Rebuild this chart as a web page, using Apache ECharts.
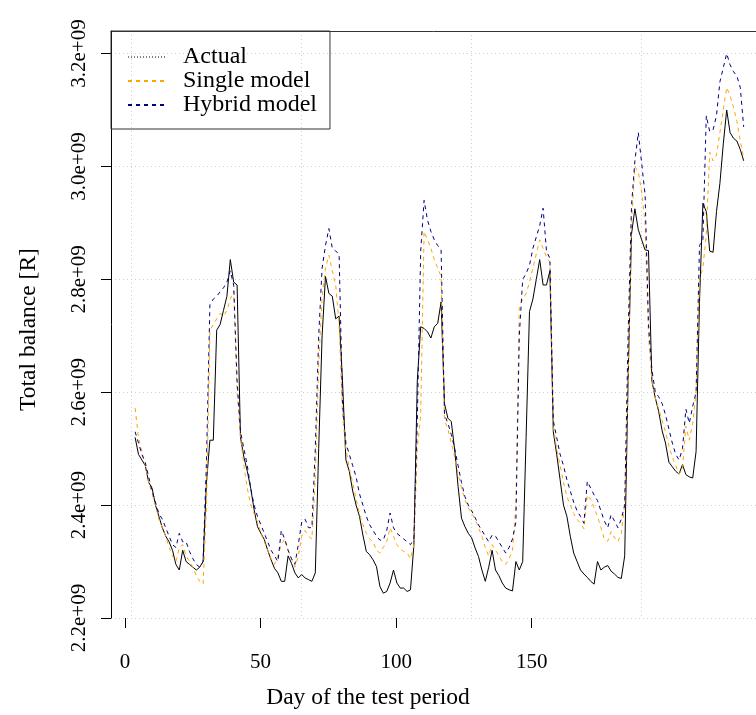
<!DOCTYPE html>
<html>
<head>
<meta charset="utf-8">
<script src="https://cdn.jsdelivr.net/npm/echarts@6/dist/echarts.min.js"></script>
<style>
html,body{margin:0;padding:0;background:#fff;}
#chart{width:756px;height:715px;}
</style>
</head>
<body>
<div id="chart"></div>
<script>
// ---- data (values in units of 1e9) ----
const seriesNames = ['Actual', 'Single model', 'Hybrid model'];

const actual = [
  2.52, 2.49, 2.48, 2.47, 2.44, 2.43, 2.40, 2.38, 2.36, 2.345,
  2.335, 2.32, 2.295, 2.285, 2.32, 2.30, 2.295, 2.29, 2.285, 2.29,
  2.30, 2.44, 2.515, 2.515, 2.71, 2.72, 2.745, 2.77, 2.835, 2.795,
  2.79, 2.52, 2.485, 2.46, 2.43, 2.392, 2.362, 2.35, 2.339, 2.32,
  2.303, 2.288, 2.28, 2.265, 2.265, 2.31, 2.297, 2.28, 2.271, 2.277,
  2.271, 2.268, 2.265, 2.28, 2.50, 2.70, 2.805, 2.775, 2.77, 2.73,
  2.735, 2.62, 2.48, 2.46, 2.425, 2.40, 2.38, 2.347, 2.318, 2.312,
  2.303, 2.291, 2.256, 2.244, 2.247, 2.262, 2.285, 2.262, 2.253, 2.253,
  2.247, 2.25, 2.33, 2.62, 2.716, 2.713, 2.707, 2.696, 2.716, 2.722,
  2.76, 2.58, 2.554, 2.548, 2.498, 2.433, 2.377, 2.362, 2.35, 2.342,
  2.324, 2.309, 2.285, 2.265, 2.29, 2.32, 2.285, 2.275, 2.262, 2.253,
  2.25, 2.248, 2.30, 2.285, 2.30, 2.52, 2.743, 2.765, 2.80, 2.835,
  2.79, 2.79, 2.815, 2.53, 2.49, 2.445, 2.40, 2.38, 2.345, 2.315,
  2.30, 2.285, 2.278, 2.272, 2.265, 2.26, 2.30, 2.285, 2.29, 2.293,
  2.283, 2.278, 2.272, 2.27, 2.31, 2.62, 2.88, 2.925, 2.888, 2.87,
  2.852, 2.851, 2.62, 2.59, 2.566, 2.532, 2.51, 2.476, 2.468, 2.46,
  2.455, 2.472, 2.454, 2.45, 2.448, 2.495, 2.76, 2.935, 2.92, 2.85,
  2.848, 2.92, 2.97, 3.04, 3.10, 3.06, 3.05, 3.045, 3.03, 3.01
];

const singleModel = [
  2.572, 2.52, 2.495, 2.47, 2.44, 2.42, 2.40, 2.375, 2.36, 2.345,
  2.325, 2.31, 2.30, 2.325, 2.33, 2.31, 2.30, 2.29, 2.275, 2.265,
  2.26, 2.40, 2.71, 2.72, 2.73, 2.74, 2.735, 2.745, 2.765, 2.78,
  2.60, 2.52, 2.47, 2.43, 2.40, 2.385, 2.37, 2.35, 2.335, 2.32,
  2.305, 2.295, 2.31, 2.33, 2.34, 2.32, 2.305, 2.29, 2.31, 2.345,
  2.355, 2.345, 2.34, 2.45, 2.65, 2.77, 2.82, 2.843, 2.815, 2.79,
  2.72, 2.56, 2.50, 2.465, 2.44, 2.41, 2.385, 2.365, 2.35, 2.34,
  2.335, 2.32, 2.315, 2.325, 2.335, 2.36, 2.345, 2.33, 2.322, 2.318,
  2.315, 2.305, 2.33, 2.50, 2.56, 2.885, 2.87, 2.855, 2.835, 2.82,
  2.805, 2.55, 2.535, 2.51, 2.485, 2.455, 2.43, 2.41, 2.395, 2.385,
  2.375, 2.36, 2.345, 2.325, 2.31, 2.33, 2.32, 2.31, 2.30, 2.295,
  2.305, 2.32, 2.40, 2.75, 2.765, 2.775, 2.795, 2.82, 2.845, 2.87,
  2.855, 2.84, 2.83, 2.54, 2.50, 2.47, 2.44, 2.415, 2.40, 2.385,
  2.375, 2.368, 2.358, 2.418, 2.41, 2.395, 2.38, 2.36, 2.34, 2.336,
  2.353, 2.342, 2.335, 2.35, 2.40, 2.62, 2.90, 3.00, 2.99, 2.955,
  2.90, 2.70, 2.62, 2.59, 2.57, 2.55, 2.53, 2.505, 2.485, 2.47,
  2.455, 2.465, 2.54, 2.515, 2.545, 2.60, 2.80, 2.82, 2.88, 3.025,
  3.01, 3.02, 3.06, 3.10, 3.14, 3.125, 3.105, 3.08, 3.045, 3.015
];

const hybridModel = [
  2.53, 2.51, 2.49, 2.475, 2.45, 2.425, 2.405, 2.385, 2.375, 2.36,
  2.345, 2.33, 2.325, 2.35, 2.335, 2.335, 2.318, 2.305, 2.295, 2.29,
  2.30, 2.48, 2.755, 2.765, 2.77, 2.778, 2.785, 2.795, 2.815, 2.79,
  2.62, 2.53, 2.50, 2.47, 2.43, 2.40, 2.38, 2.365, 2.35, 2.335,
  2.32, 2.31, 2.30, 2.355, 2.34, 2.32, 2.305, 2.295, 2.33, 2.37,
  2.375, 2.36, 2.36, 2.50, 2.70, 2.82, 2.86, 2.89, 2.855, 2.85,
  2.845, 2.58, 2.51, 2.49, 2.47, 2.45, 2.42, 2.40, 2.38, 2.365,
  2.355, 2.345, 2.338, 2.338, 2.355, 2.386, 2.36, 2.35, 2.345, 2.34,
  2.335, 2.33, 2.34, 2.55, 2.85, 2.94, 2.905, 2.885, 2.87, 2.86,
  2.852, 2.56, 2.545, 2.525, 2.50, 2.47, 2.44, 2.415, 2.40, 2.39,
  2.378, 2.365, 2.355, 2.345, 2.335, 2.347, 2.345, 2.335, 2.325, 2.315,
  2.325, 2.34, 2.37, 2.70, 2.80, 2.81, 2.825, 2.855, 2.875, 2.895,
  2.926, 2.85, 2.837, 2.55, 2.52, 2.49, 2.47, 2.445, 2.425, 2.405,
  2.39, 2.38, 2.368, 2.442, 2.43, 2.418, 2.408, 2.39, 2.372, 2.36,
  2.383, 2.372, 2.36, 2.375, 2.40, 2.70, 2.93, 3.01, 3.06, 3.005,
  2.95, 2.72, 2.64, 2.60, 2.592, 2.58, 2.56, 2.535, 2.51, 2.49,
  2.48, 2.50, 2.57, 2.545, 2.575, 2.60, 2.86, 2.87, 3.09, 3.062,
  3.065, 3.09, 3.15, 3.175, 3.20, 3.18, 3.168, 3.16, 3.14, 3.07
];

const xTickLabels = [0, 50, 100, 150];
const xGridValues = [0, 50, 100, 150];
const yTickValues = [2.2, 2.4, 2.6, 2.8, 3.0, 3.2];

const days = actual.map((_, i) => i + 1);
const toPairs = arr => arr.map((v, i) => [days[i], v]);

const FONT = 'Liberation Serif';
const chart = echarts.init(document.getElementById('chart'), null, {renderer: 'canvas'});

const hiddenAxis = {
  axisLine: {show: false}, axisTick: {show: false},
  axisLabel: {show: false}, splitLine: {show: false}
};
const GRID_LINE = {show: true, lineStyle: {color: '#cfcfcf', width: 1, type: [1, 3]}};

const option = {
  animation: false,
  backgroundColor: '#ffffff',
  textStyle: {fontFamily: FONT},
  grid: [
    {left: 111, top: 31, width: 645, height: 587},     // frame, y axis, horizontal grid
    {left: 131.7, top: 31, width: 624.3, height: 587}, // data + vertical grid (3.4 px / day)
    {left: 125, top: 31, width: 406.7, height: 587},   // x tick labels
    {left: 111, top: 31, width: 514, height: 602}      // axis titles
  ],
  xAxis: [
    Object.assign({}, hiddenAxis, {
      gridIndex: 0, type: 'value', position: 'top', min: 0, max: 1,
      axisLine: {show: true, lineStyle: {color: '#333', width: 1}}
    }),
    Object.assign({}, hiddenAxis, {
      gridIndex: 1, type: 'value', min: 0, max: 183.62, interval: 50,
      axisTick: {show: false, customValues: xGridValues},
      splitLine: GRID_LINE
    }),
    Object.assign({}, hiddenAxis, {
      gridIndex: 2, type: 'value', min: 0, max: 150, interval: 50,
      axisTick: {show: true, length: 10, customValues: xTickLabels, lineStyle: {color: '#000', width: 1}},
      axisLabel: {show: true, customValues: xTickLabels, margin: 34, fontFamily: FONT, fontSize: 21, color: '#000'}
    }),
    Object.assign({}, hiddenAxis, {
      gridIndex: 3, type: 'value', min: 0, max: 1,
      name: 'Day of the test period', nameLocation: 'middle', nameGap: 58,
      nameTextStyle: {fontFamily: FONT, fontSize: 23.5, color: '#000'}
    })
  ],
  yAxis: [
    {
      gridIndex: 0, type: 'value', min: 2.2, max: 3.24, interval: 0.2,
      axisLine: {show: true, lineStyle: {color: '#000', width: 1}},
      axisTick: {show: true, length: 10, customValues: yTickValues, lineStyle: {color: '#000', width: 1}},
      axisLabel: {
        show: true, customValues: yTickValues, rotate: 90, margin: 21,
        fontFamily: FONT, fontSize: 21, color: '#000',
        formatter: v => v.toFixed(1) + 'e+09'
      },
      splitLine: GRID_LINE
    },
    Object.assign({}, hiddenAxis, {gridIndex: 1, type: 'value', min: 2.2, max: 3.24}),
    Object.assign({}, hiddenAxis, {gridIndex: 2, type: 'value', min: 2.2, max: 3.24}),
    Object.assign({}, hiddenAxis, {
      gridIndex: 3, type: 'value', min: 0, max: 1,
      name: 'Total balance [R]', nameLocation: 'middle', nameGap: 70, nameRotate: 90,
      nameTextStyle: {fontFamily: FONT, fontSize: 23.5, color: '#000'}
    })
  ],
  legend: {
    orient: 'vertical', left: 111, top: 31,
    padding: [14, 13, 12, 16],
    itemGap: 0, itemWidth: 38, itemHeight: 23,
    borderColor: '#333', borderWidth: 1, backgroundColor: 'transparent',
    selectedMode: false,
    itemStyle: {opacity: 0},
    textStyle: {fontFamily: FONT, fontSize: 24, color: '#000', lineHeight: 23, padding: [0, 0, 0, 12]},
    data: [
      {name: seriesNames[0], itemStyle: {opacity: 0}, lineStyle: {type: [1, 2], color: '#000', width: 1}},
      {name: seriesNames[1], itemStyle: {opacity: 0}},
      {name: seriesNames[2], itemStyle: {opacity: 0}}
    ]
  },
  series: [
    {
      name: seriesNames[0], type: 'line', xAxisIndex: 1, yAxisIndex: 1,
      data: toPairs(actual), symbol: 'none', showSymbol: false,
      lineStyle: {color: '#000000', width: 1, type: 'solid'},
      itemStyle: {color: '#000000'}, z: 3
    },
    {
      name: seriesNames[1], type: 'line', xAxisIndex: 1, yAxisIndex: 1,
      data: toPairs(singleModel), symbol: 'none', showSymbol: false,
      lineStyle: {color: '#FFA500', width: 1, type: [4, 4]},
      itemStyle: {color: '#FFA500'}, z: 4
    },
    {
      name: seriesNames[2], type: 'line', xAxisIndex: 1, yAxisIndex: 1,
      data: toPairs(hybridModel), symbol: 'none', showSymbol: false,
      lineStyle: {color: '#000080', width: 1, type: [4, 4]},
      itemStyle: {color: '#000080'}, z: 5
    }
  ]
};
chart.setOption(option);
</script>
</body>
</html>
